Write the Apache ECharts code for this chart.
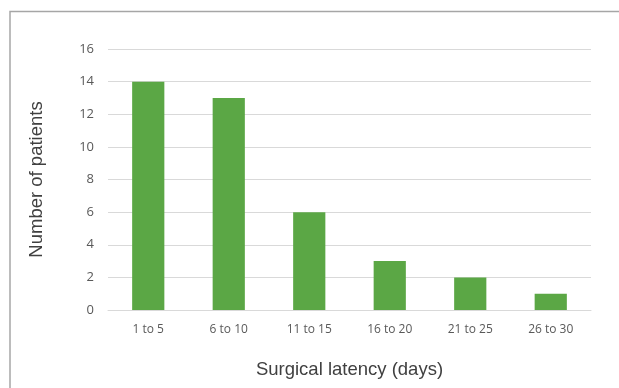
<!DOCTYPE html>
<html>
<head>
<meta charset="utf-8">
<script src="https://cdn.jsdelivr.net/npm/echarts@6/dist/echarts.min.js"></script>
<style>
  html, body { margin: 0; padding: 0; background: #fff; }
  #chart { width: 619px; height: 388px; }
</style>
</head>
<body>
<div id="chart"></div>
<script>
const categories = ['1 to 5', '6 to 10', '11 to 15', '16 to 20', '21 to 25', '26 to 30']
const patients = [14, 13, 6, 3, 2, 1]

const chart = echarts.init(document.getElementById('chart'), null, { renderer: 'canvas' })

chart.setOption({
  backgroundColor: '#fff',
  animation: false,
  textStyle: { fontFamily: 'Open Sans, Liberation Sans, sans-serif' },
  graphic: [
    {
      type: 'polyline',
      shape: { points: [[10, 400], [10, 11.5], [630, 11.5]] },
      style: { stroke: '#a6a6a6', lineWidth: 1.5, fill: null },
    },
  ],
  grid: { left: 108, right: 28, top: 49, bottom: 78 },
  xAxis: {
    type: 'category',
    data: categories,
    name: 'Surgical latency (days)',
    nameLocation: 'middle',
    nameGap: 50,
    nameTextStyle: { color: '#404040', fontSize: 18.5, fontFamily: 'Liberation Sans, Arial, sans-serif' },
    axisLine: { lineStyle: { color: '#d9d9d9' } },
    axisTick: { show: false },
    axisLabel: { color: '#595959', fontSize: 12, margin: 14 },
  },
  yAxis: {
    type: 'value',
    min: 0,
    max: 16,
    interval: 2,
    name: 'Number of patients',
    nameLocation: 'middle',
    nameGap: 62,
    nameTextStyle: { color: '#404040', fontSize: 18.5, fontFamily: 'Liberation Sans, Arial, sans-serif' },
    axisLine: { show: false },
    axisTick: { show: false },
    axisLabel: { color: '#595959', fontSize: 13, margin: 14 },
    splitLine: { lineStyle: { color: '#d9d9d9' } },
  },
  series: [
    {
      type: 'bar',
      data: patients,
      barWidth: '40%',
      itemStyle: { color: '#5ba745' },
    },
  ],
})
</script>
</body>
</html>
